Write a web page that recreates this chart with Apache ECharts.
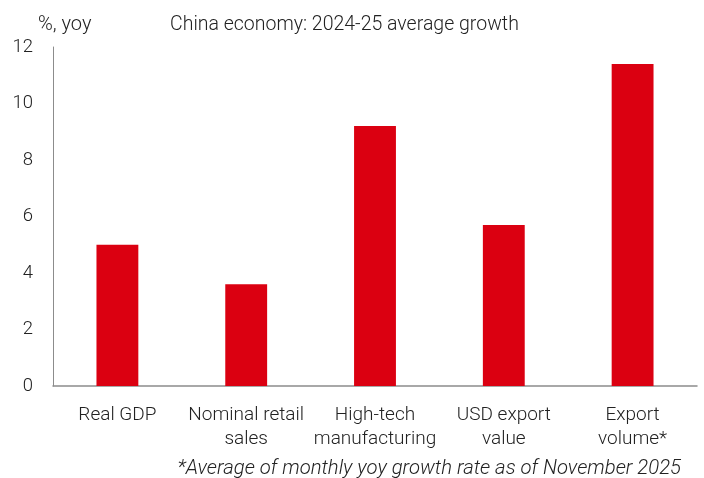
<!DOCTYPE html>
<html><head><meta charset="utf-8">
<script src="https://cdn.jsdelivr.net/npm/echarts@6/dist/echarts.min.js"></script>
<style>html,body{margin:0;padding:0;background:#fff}#c{width:704px;height:478px}</style>
</head><body><div id="c"></div>
<script>
const categories = ['Real GDP', 'Nominal retail\nsales', 'High-tech\nmanufacturing', 'USD export\nvalue', 'Export\nvolume*'];
const growth = [5.0, 3.6, 9.2, 5.7, 11.4];
const yTicks = [0, 2, 4, 6, 8, 10, 12];
const titleText = 'China economy: 2024-25 average growth';
const unitText = '%, yoy';
const footnoteText = '*Average of monthly yoy growth rate as of November 2025';

const FONT = 'Roboto';
const chart = echarts.init(document.getElementById('c'), null, {renderer: 'canvas'});
chart.setOption({
  animation: false,
  backgroundColor: '#fff',
  grid: {left: 53, right: 7, top: 47, bottom: 92, containLabel: false},
  title: [
    {text: titleText, left: 165, top: 10, padding: 5, textStyle: {fontFamily: FONT, fontWeight: 300, fontSize: 19.5, color: '#222'}},
    {text: unitText, left: 33, top: 10, padding: 5, textStyle: {fontFamily: FONT, fontWeight: 300, fontSize: 20, color: '#222'}},
    {text: footnoteText, right: 18, top: 454, padding: 5, textStyle: {fontFamily: FONT, fontWeight: 300, fontStyle: 'italic', fontSize: 20.3, color: '#222'}}
  ],
  xAxis: {
    type: 'category',
    data: categories,
    axisLine: {show: true, lineStyle: {color: '#8c8c8c', width: 1.5}},
    axisTick: {show: false},
    axisLabel: {interval: 0, margin: 17, fontFamily: FONT, fontWeight: 300, fontSize: 19, color: '#222', lineHeight: 24}
  },
  yAxis: {
    type: 'value',
    min: yTicks[0], max: yTicks[yTicks.length - 1], interval: 2,
    axisLine: {show: true, lineStyle: {color: '#8c8c8c', width: 1}},
    axisTick: {show: false},
    splitLine: {show: false},
    axisLabel: {margin: 20, fontFamily: FONT, fontWeight: 300, fontSize: 18.5, color: '#222'}
  },
  series: [{
    type: 'bar',
    data: growth,
    barWidth: '32.5%',
    itemStyle: {color: '#db0011'}
  }]
});
</script></body></html>
